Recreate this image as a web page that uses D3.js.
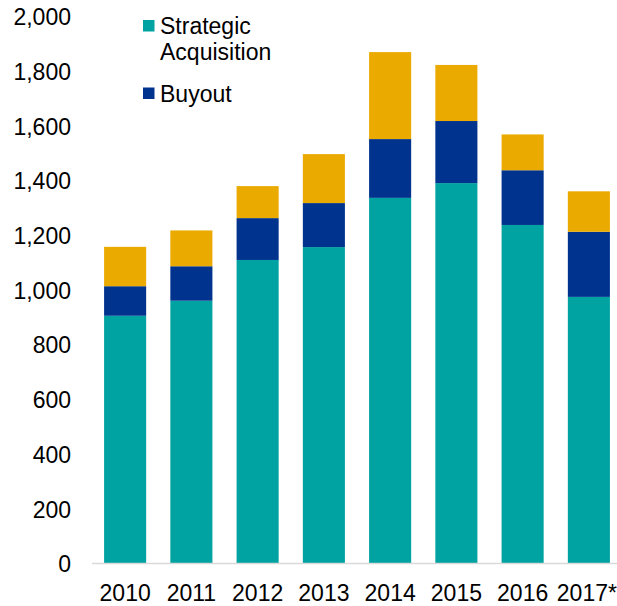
<!DOCTYPE html>
<html>
<head>
<meta charset="utf-8">
<script src="https://cdn.jsdelivr.net/npm/d3@7"></script>
<style>
  body { margin: 0; background: #fff; }
  text { font-family: "Liberation Sans", Arial, sans-serif; fill: #000; }
</style>
</head>
<body>
<div id="chart"></div>
<script>
var years = ["2010", "2011", "2012", "2013", "2014", "2015", "2016", "2017*"];
var strategic = [904, 959, 1108, 1155, 1335, 1389, 1236, 973];
var buyout = [108, 126, 153, 161, 215, 227, 200, 238];
var other = [144, 131, 117, 179, 318, 205, 131, 148];
var yTicks = [0, 200, 400, 600, 800, 1000, 1200, 1400, 1600, 1800, 2000];

var keys = ["strategic", "buyout", "other"];
var color = { strategic: "#00A3A1", buyout: "#00338D", other: "#EAAA00" };

var width = 617, height = 606;

var rows = years.map(function(y, i) {
  return { year: y, strategic: strategic[i], buyout: buyout[i], other: other[i] };
});

var svg = d3.select("#chart").append("svg")
  .attr("width", width)
  .attr("height", height);

var x = d3.scaleBand()
  .domain(years)
  .range([92, 622])
  .paddingInner(0.365)
  .paddingOuter(0.1825);

var y = d3.scaleLinear()
  .domain([0, 2000])
  .range([563, 16]);

var stack = d3.stack().keys(keys)(rows);

svg.append("g")
  .selectAll("g")
  .data(stack)
  .enter()
  .append("g")
  .attr("fill", function(d) { return color[d.key]; })
  .selectAll("rect")
  .data(function(d) { return d; })
  .enter()
  .append("rect")
  .attr("x", function(d) { return x(d.data.year); })
  .attr("y", function(d) { return y(d[1]); })
  .attr("width", x.bandwidth())
  .attr("height", function(d) { return y(d[0]) - y(d[1]); });

// baseline
svg.append("line")
  .attr("x1", 92).attr("x2", 617)
  .attr("y1", y(0) + 0.5).attr("y2", y(0) + 0.5)
  .attr("stroke", "#d9d9d9")
  .attr("stroke-width", 1.5);

var yAxis = svg.append("g")
  .attr("transform", "translate(92,0)")
  .call(d3.axisLeft(y).tickValues(yTicks).tickSize(0).tickPadding(21).tickFormat(d3.format(",")));
yAxis.select(".domain").remove();
yAxis.selectAll("text").style("font-size", "23px").attr("dy", "0.38em");

var xAxis = svg.append("g")
  .attr("transform", "translate(0," + y(0) + ")")
  .call(d3.axisBottom(x).tickSize(0).tickPadding(22));
xAxis.select(".domain").remove();
xAxis.selectAll("text").style("font-size", "23px");
// last label sits against the right edge
xAxis.selectAll(".tick").filter(function(d) { return d === "2017*"; })
  .select("text").attr("x", -2);

// legend
var legend = [
  { key: "strategic", lines: ["Strategic", "Acquisition"], y: 34 },
  { key: "buyout", lines: ["Buyout"], y: 101.5 }
];

var lg = svg.append("g")
  .selectAll("g")
  .data(legend)
  .enter()
  .append("g");

lg.append("rect")
  .attr("x", 143)
  .attr("y", function(d) { return d.y - 14; })
  .attr("width", 11.5)
  .attr("height", 11.5)
  .attr("fill", function(d) { return color[d.key]; });

lg.append("text")
  .attr("x", 160)
  .attr("y", function(d) { return d.y; })
  .style("font-size", "23px")
  .selectAll("tspan")
  .data(function(d) { return d.lines; })
  .enter()
  .append("tspan")
  .attr("x", 160)
  .attr("dy", function(d, i) { return i === 0 ? 0 : 26; })
  .text(function(d) { return d; });
</script>
</body>
</html>
